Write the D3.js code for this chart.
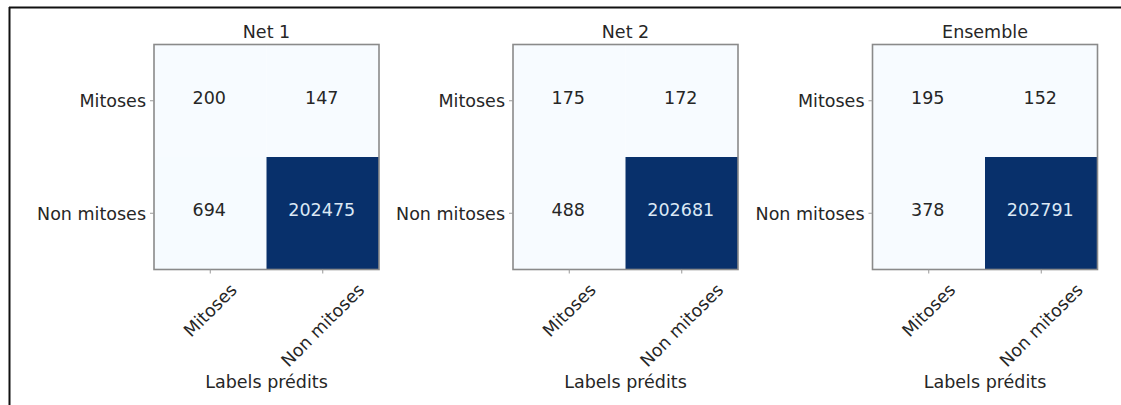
<!DOCTYPE html>
<html><head><meta charset="utf-8">
<script src="https://cdn.jsdelivr.net/npm/d3@7"></script>
<style>
html,body{margin:0;padding:0;background:#fff;}
svg{display:block;}
text{font-family:"DejaVu Sans",sans-serif;}
</style></head>
<body>
<svg id="c" width="1121" height="405"></svg>
<script>
const titles = ["Net 1", "Net 2", "Ensemble"];
const classLabels = ["Mitoses", "Non mitoses"];
const net1 = [[200, 147], [694, 202475]];
const net2 = [[175, 172], [488, 202681]];
const ensemble = [[195, 152], [378, 202791]];
const matrices = [net1, net2, ensemble];
const xAxisTitle = "Labels prédits";

const svg = d3.select("#c");
const W = 1121, H = 405;
const fs = 17.5;
const textColor = "#262626";

// figure frame (top and left edges)
svg.append("line").attr("x1", 9).attr("x2", W).attr("y1", 7.5).attr("y2", 7.5)
  .attr("stroke", "#111").attr("stroke-width", 2);
svg.append("line").attr("x1", 9.5).attr("x2", 9.5).attr("y1", 7).attr("y2", H)
  .attr("stroke", "#111").attr("stroke-width", 2);

const panelLeft = [154, 513, 872.5];
const panelTop = 44.5, size = 225;

matrices.forEach((m, k) => {
  const g = svg.append("g").attr("transform", `translate(${panelLeft[k]},${panelTop})`);
  const x = d3.scaleBand().domain(classLabels).range([0, size]);
  const y = d3.scaleBand().domain(classLabels).range([0, size]);
  const flat = m.flat();
  const vmin = d3.min(flat), vmax = d3.max(flat);
  const color = d3.scaleSequential(d3.interpolateBlues).domain([vmin, vmax]);
  const cells = [];
  m.forEach((row, i) => row.forEach((v, j) => cells.push({r: classLabels[i], c: classLabels[j], v})));

  g.selectAll("rect.cell").data(cells).join("rect").attr("class", "cell")
    .attr("x", d => x(d.c)).attr("y", d => y(d.r))
    .attr("width", x.bandwidth()).attr("height", y.bandwidth())
    .attr("fill", d => color(d.v));

  g.selectAll("text.val").data(cells).join("text").attr("class", "val")
    .attr("x", d => x(d.c) + x.bandwidth() / 2 - 1)
    .attr("y", d => y(d.r) + y.bandwidth() / 2 - 3)
    .attr("text-anchor", "middle").attr("dominant-baseline", "central")
    .attr("font-size", fs)
    .attr("fill", d => d.v > (vmin + vmax) / 2 ? "#dbe8f5" : textColor)
    .text(d => d.v);

  // frame
  g.append("rect").attr("x", 0).attr("y", 0).attr("width", size).attr("height", size)
    .attr("fill", "none").attr("stroke", "#8a8a8a").attr("stroke-width", 1.6);

  // y axis ticks
  const yAxis = g.append("g").call(d3.axisLeft(y).tickSize(4).tickPadding(4));
  yAxis.select(".domain").remove();
  yAxis.selectAll("line").attr("stroke", "#999");
  yAxis.selectAll("text").attr("font-size", fs).attr("fill", textColor)
    .attr("font-family", "DejaVu Sans").attr("dy", "0.32em")
    .attr("transform", "translate(0,1)");

  // x axis ticks
  const xAxis = g.append("g").attr("transform", `translate(0,${size})`)
    .call(d3.axisBottom(x).tickSize(4).tickFormat(""));
  xAxis.select(".domain").remove();
  xAxis.selectAll("line").attr("stroke", "#999");

  // rotated x tick labels: bbox centered at tick, top just below tick
  classLabels.forEach(lbl => {
    const t = g.append("text").attr("font-size", fs).attr("fill", textColor)
      .attr("text-anchor", "middle").attr("dominant-baseline", "central").text(lbl);
    const w = t.node().getComputedTextLength();
    const h = fs * 1.0;
    const bh = (w + h) * Math.SQRT1_2;
    const cx = x(lbl) + x.bandwidth() / 2;
    const cy = size + 11 + bh / 2;
    t.attr("transform", `translate(${cx},${cy}) rotate(-45)`);
  });

  // title
  g.append("text").attr("x", size / 2).attr("y", -6.5)
    .attr("text-anchor", "middle").attr("font-size", fs).attr("fill", textColor)
    .text(titles[k]);

  // x axis title
  g.append("text").attr("x", size / 2).attr("y", 343)
    .attr("text-anchor", "middle").attr("font-size", fs).attr("fill", textColor)
    .text(xAxisTitle);
});
</script>
</body></html>
